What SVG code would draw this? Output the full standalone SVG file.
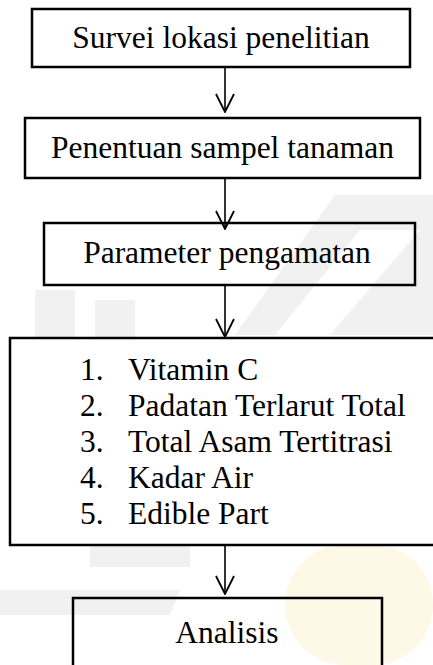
<svg xmlns="http://www.w3.org/2000/svg" width="433" height="665" viewBox="0 0 433 665">
  <defs>
    <style>
      .box { fill: none; stroke: #000; stroke-width: 2.5; }
      .lbl { font-family: "Liberation Serif", "Times New Roman", serif; font-size: 31.5px; fill: #000; }
      .mid { text-anchor: middle; }
      .conn { stroke: #000; stroke-width: 1.6; fill: none; }
      .wm { fill: #f1f1f1; }
      .wmy { fill: #fdf9e6; }
    </style>
    <marker id="arr" viewBox="0 0 20 20" refX="19" refY="10" markerWidth="20" markerHeight="20" markerUnits="userSpaceOnUse" orient="auto">
      <path d="M1,1 L19,10 L1,19" fill="none" stroke="#000" stroke-width="1.8"/>
    </marker>
  </defs>
  <rect width="433" height="665" fill="#fff"/>
  <g id="watermark">
    <polygon class="wm" points="235,335 335,195 433,195 433,230 360,230 275,335"/>
    <polygon class="wm" points="330,335 420,230 433,230 433,335"/>
    <rect class="wm" x="35" y="290" width="40" height="48"/>
    <rect class="wm" x="95" y="300" width="40" height="38"/>
    <rect class="wm" x="90" y="545" width="100" height="22"/>
    <polygon class="wm" points="0,590 180,590 170,615 0,615"/>
    <rect class="wmy" x="285" y="545" width="148" height="120" rx="60"/>
  </g>
  <g id="connectors">
    <line class="conn" x1="225" y1="67" x2="225" y2="112" marker-end="url(#arr)"/>
    <line class="conn" x1="225" y1="178" x2="225" y2="229" marker-end="url(#arr)"/>
    <line class="conn" x1="225" y1="285" x2="225" y2="337" marker-end="url(#arr)"/>
    <line class="conn" x1="225" y1="545" x2="225" y2="594" marker-end="url(#arr)"/>
  </g>
  <g id="node-survei">
    <rect class="box" x="32" y="9" width="378" height="58"/>
    <text class="lbl mid" x="221" y="48">Survei lokasi penelitian</text>
  </g>
  <g id="node-penentuan">
    <rect class="box" x="25" y="118" width="395" height="60"/>
    <text class="lbl mid" x="222.5" y="158">Penentuan sampel tanaman</text>
  </g>
  <g id="node-parameter">
    <rect class="box" x="44" y="223" width="371" height="62"/>
    <text class="lbl mid" x="227" y="263">Parameter pengamatan</text>
  </g>
  <g id="node-list">
    <path class="box" d="M440,338 H10 V545 H440"/>
    <text class="lbl" x="80" y="380">1.</text>
    <text class="lbl" x="128" y="380">Vitamin C</text>
    <text class="lbl" x="80" y="416">2.</text>
    <text class="lbl" x="128" y="416">Padatan Terlarut Total</text>
    <text class="lbl" x="80" y="452">3.</text>
    <text class="lbl" x="128" y="452">Total Asam Tertitrasi</text>
    <text class="lbl" x="80" y="488">4.</text>
    <text class="lbl" x="128" y="488">Kadar Air</text>
    <text class="lbl" x="80" y="524">5.</text>
    <text class="lbl" x="128" y="524">Edible Part</text>
  </g>
  <g id="node-analisis">
    <rect class="box" x="73" y="598" width="309" height="80"/>
    <text class="lbl mid" x="227" y="643">Analisis</text>
  </g>
</svg>
